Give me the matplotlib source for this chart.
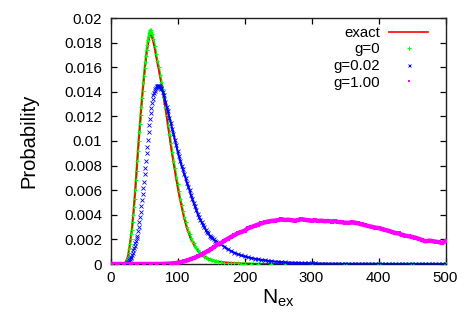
import matplotlib
matplotlib.use("Agg")
import matplotlib.pyplot as plt

plt.rcParams['font.family'] = ['Liberation Sans', 'DejaVu Sans']
plt.rcParams['mathtext.default'] = 'regular'

# ---- data ----
n_exact = [0, 10, 20, 22, 24, 26, 28, 30, 32, 34, 36, 38, 40, 42, 44, 46, 48, 50, 52, 54, 56, 58,
           60, 62, 64, 66, 68, 70, 72, 74, 76, 78, 80, 82, 84, 86, 88, 90, 92, 94, 96, 98,
           100, 102, 104, 106, 108, 110, 112, 114, 116, 118, 120, 122, 124, 126, 128, 130,
           135, 140, 145, 150, 160, 170, 180, 190, 200, 220, 250, 300, 400, 500]
p_exact = [0.0, 0.0, 0.0, 0.0001, 0.0003, 0.0006, 0.0012, 0.0020, 0.0028, 0.0040, 0.0053, 0.0068,
           0.0084, 0.0099, 0.0113, 0.0127, 0.0140, 0.0151, 0.0162, 0.0171, 0.0178, 0.0184,
           0.0186, 0.0184, 0.0180, 0.0175, 0.0169, 0.0163, 0.0158, 0.0152, 0.0146, 0.0140,
           0.0133, 0.0126, 0.0119, 0.0111, 0.0104, 0.0096, 0.0089, 0.0082, 0.0076, 0.0069,
           0.0063, 0.0057, 0.0052, 0.0047, 0.0042, 0.0037, 0.0033, 0.0029, 0.0026, 0.0023,
           0.0020, 0.0018, 0.0016, 0.0014, 0.0013, 0.0011,
           0.0008, 0.0006, 0.00045, 0.00033, 0.00019, 0.00012, 0.00008, 0.00005, 0.00003,
           0.00001, 0.0, 0.0, 0.0, 0.0]

n_g0 = [0, 10, 20, 21, 22, 23, 24, 25, 26, 27, 28, 29, 30, 31, 32, 33, 34, 35, 36, 37, 38, 39,
        40, 41, 42, 43, 44, 45, 46, 47, 48, 49, 50, 51, 52, 53, 54, 55, 56, 57, 58, 59,
        60, 61, 62, 64, 66, 68, 70, 72, 74, 76, 78, 80, 82, 84, 86, 88, 90, 92, 94, 96, 98,
        100, 102, 104, 106, 108, 110, 112, 114, 116, 118, 120, 122, 124, 126, 128, 130,
        132, 134, 136, 138, 140, 142, 144, 146, 148, 150, 152, 154, 156, 158, 160,
        165, 170, 175, 180, 185, 190, 195, 200, 210, 220, 240, 260, 300, 350, 400, 450, 500]
p_g0 = [0.0, 0.0, 0.0, 0.00005, 0.0001, 0.0002, 0.0003, 0.0004, 0.0006, 0.0009, 0.0012, 0.0016,
        0.0020, 0.0024, 0.0028, 0.0034, 0.0040, 0.0046, 0.0053, 0.0060, 0.0068, 0.0076,
        0.0084, 0.0092, 0.0100, 0.0107, 0.0114, 0.0121, 0.0128, 0.0135, 0.0141, 0.0147,
        0.0153, 0.0159, 0.0164, 0.0169, 0.0174, 0.0178, 0.0182, 0.0185, 0.0188, 0.0190,
        0.0190, 0.0189, 0.0187, 0.0183, 0.0177, 0.0171, 0.0165, 0.0160, 0.0154, 0.0148,
        0.0142, 0.0135, 0.0128, 0.0121, 0.0113, 0.0106, 0.0098, 0.0091, 0.0084, 0.0078,
        0.0071, 0.0065, 0.0059, 0.0053, 0.0048, 0.0043, 0.0038, 0.0034, 0.0030, 0.0027,
        0.0024, 0.0021, 0.0019, 0.0017, 0.0015, 0.0013, 0.0011, 0.0010, 0.0009, 0.0008,
        0.0007, 0.0006, 0.00053, 0.00047, 0.00042, 0.00037, 0.00033, 0.0003, 0.00027,
        0.00024, 0.00021, 0.00019,
        0.00015, 0.00012, 0.0001, 0.00008, 0.00006, 0.00005, 0.00004, 0.00003, 0.00002,
        0.00001, 0.0, 0.0, 0.0, 0.0, 0.0, 0.0, 0.0]

n_g002 = [0, 10, 20, 24, 25, 26, 27, 28, 29, 30, 31, 32, 33, 34, 35, 36, 37, 38, 39, 40,
          41, 42, 43, 44, 45, 46, 47, 48, 49, 50, 51, 52, 53, 54, 55, 56, 57, 58, 59, 60,
          61, 62, 63, 64, 65, 66, 67, 68, 69, 70, 71, 72, 73, 74, 75, 76,
          78, 80, 82, 84, 86, 88, 90, 92, 94, 96, 98, 100, 102, 104, 106, 108, 110, 112,
          114, 116, 118, 120, 122, 124, 126, 128, 130, 132, 134, 136, 138, 140, 142, 144,
          146, 148, 150, 152, 154, 156, 158, 160,
          165, 170, 175, 180, 185, 190, 195, 200, 205, 210, 215, 220, 225, 230, 235, 240,
          245, 250, 255, 260, 265, 270, 275, 280, 285, 290, 295, 300, 305, 310, 315, 320,
          325, 330, 335, 340, 345, 350, 355, 360, 365, 370, 375, 380, 385, 390, 395, 400,
          405, 410, 415, 420, 425, 430, 435, 440, 445, 450, 455, 460, 465, 470, 475, 480,
          485, 490, 495, 500]
p_g002 = [0.0, 0.0, 0.0, 0.00005, 0.0001, 0.00015, 0.0002, 0.0003, 0.0004, 0.0005, 0.0006,
          0.0007, 0.0009, 0.0011, 0.0013, 0.0015, 0.0017, 0.0019, 0.0021, 0.0023,
          0.0027, 0.0030, 0.0034, 0.0038, 0.0042, 0.0047, 0.0052, 0.0057, 0.0062, 0.0067,
          0.0073, 0.0078, 0.0084, 0.0090, 0.0095, 0.0101, 0.0107, 0.0113, 0.0118, 0.0123,
          0.0127, 0.0131, 0.0134, 0.0137, 0.0139, 0.0141, 0.0142, 0.0143, 0.0144, 0.0145,
          0.0145, 0.0145, 0.0145, 0.0144, 0.0143, 0.0142,
          0.0140, 0.0137, 0.0132, 0.0128, 0.0124, 0.0119, 0.0115, 0.0110, 0.0106, 0.0101,
          0.0097, 0.0092, 0.0088, 0.0084, 0.0080, 0.0077, 0.0073, 0.0070, 0.0066, 0.0063,
          0.0060, 0.0056, 0.0053, 0.0050, 0.0047, 0.0044, 0.0041, 0.0038, 0.0036, 0.0034,
          0.0032, 0.0030, 0.0028, 0.0026, 0.0025, 0.0023, 0.0022, 0.0021, 0.0020, 0.0019,
          0.0018, 0.0017,
          0.0016, 0.0014, 0.0012, 0.00105, 0.00092, 0.0008, 0.0007, 0.00062, 0.00055, 0.00049,
          0.00043, 0.00038, 0.00034, 0.0003, 0.00026, 0.00023, 0.0002, 0.00018, 0.00016,
          0.00014, 0.00012, 0.00011, 0.0001, 0.00009, 0.00008, 0.00007, 0.00006, 0.00005,
          0.00005, 0.00004, 0.00003, 0.00003, 0.00002, 0.00002, 0.00002, 0.00002, 0.00001,
          0.00001, 0.00001, 0.00001, 0.00001, 0.00001, 0.00001, 0.00001, 0.00001, 0.00001,
          0.00001, 0.00001, 0.0, 0.0, 0.0, 0.0, 0.0, 0.0, 0.0, 0.0, 0.0, 0.0, 0.0, 0.0, 0.0,
          0.0, 0.0, 0.0, 0.0, 0.0, 0.0, 0.0]

n_g1 = [0, 10, 20, 30, 40, 50, 60, 70, 80, 90, 95, 100, 105, 110, 115, 120, 125, 130, 135,
        140, 145, 150, 155, 160, 165, 170, 175, 180, 185, 190, 195, 200, 205, 210, 215, 220,
        225, 230, 235, 240, 245, 250, 255, 260, 265, 270, 275, 280, 285, 290, 295, 300, 305,
        310, 315, 320, 325, 330, 335, 340, 345, 350, 355, 360, 365, 370, 375, 380, 385, 390,
        395, 400, 405, 410, 415, 420, 425, 430, 435, 440, 445, 450, 455, 460, 465, 470, 475,
        480, 485, 490, 495, 500]
p_g1 = [0.0, 0.0, 0.0, 0.0, 0.0, 0.0, 0.0, 0.0, 0.00001, 0.00004, 0.00006, 0.0001, 0.00015,
        0.00022, 0.0003, 0.0004, 0.0005, 0.00062, 0.00075, 0.0009, 0.00105, 0.0012, 0.0014,
        0.0016, 0.0017, 0.0019, 0.00205, 0.0022, 0.00235, 0.0025, 0.0026, 0.0027, 0.0029,
        0.0030, 0.0031, 0.0032, 0.0033, 0.00338, 0.00345, 0.0035, 0.00352, 0.00357, 0.00362,
        0.00358, 0.0036, 0.00356, 0.00352, 0.00358, 0.00363, 0.0036, 0.00355, 0.00352,
        0.00356, 0.0035, 0.00352, 0.00348, 0.0035, 0.00345, 0.00348, 0.00342, 0.0034,
        0.00336, 0.00334, 0.00338, 0.00336, 0.0033, 0.00322, 0.00316, 0.00308, 0.00303,
        0.00296, 0.00292, 0.00285, 0.00277, 0.0027, 0.0026, 0.00252, 0.00248, 0.00238,
        0.0023, 0.00226, 0.0022, 0.00214, 0.00205, 0.00195, 0.00184, 0.0019, 0.00187,
        0.00182, 0.00178, 0.00172, 0.00185]

labels = ['exact', 'g=0', 'g=0.02', 'g=1.00']
x_ticks = [0, 100, 200, 300, 400, 500]
y_ticks = [0, 0.002, 0.004, 0.006, 0.008, 0.01, 0.012, 0.014, 0.016, 0.018, 0.02]
y_ticklabels = ['0', '0.002', '0.004', '0.006', '0.008', '0.01', '0.012', '0.014',
                '0.016', '0.018', '0.02']

# ---- figure ----
fig = plt.figure(figsize=(4.69, 3.28), dpi=100)
ax = fig.add_axes([110.5 / 469, 64 / 328, 335 / 469, 246 / 328])

RED, GREEN, BLUE, MAGENTA = '#ff0000', '#00ff00', '#0000ff', '#ff00ff'

# g=0 drawn as a green band underneath, exact line on top, g=0 markers above
ax.plot(n_g0, p_g0, color=GREEN, lw=1.8, zorder=2, solid_joinstyle='round')
h_exact, = ax.plot(n_exact, p_exact, color=RED, lw=1.2, zorder=3, label=labels[0])
h_g0, = ax.plot(n_g0, p_g0, ls='none', marker='+', ms=3.0, mew=0.7, color=GREEN,
                zorder=4, label=labels[1])

# g=0.02: band under the dense part after the peak, then x markers
ipk = p_g002.index(max(p_g002))
ax.plot(n_g002[ipk:], p_g002[ipk:], color=BLUE, lw=1.5, zorder=4)
h_g002, = ax.plot(n_g002, p_g002, ls='none', marker='x', ms=2.4, mew=0.6, color=BLUE,
                  zorder=5, label=labels[2])

# g=1.00: dense squares -> thick band
ax.plot(n_g1, p_g1, color=MAGENTA, lw=3.2, zorder=6, solid_joinstyle='round')
h_g1, = ax.plot(n_g1, p_g1, ls='none', marker='s', ms=2.2, mew=0, color=MAGENTA,
                zorder=6, label=labels[3])

ax.set_xlim(0, 500)
ax.set_ylim(0, 0.02)
ax.set_xticks(x_ticks)
ax.set_xticklabels([str(v) for v in x_ticks])
ax.set_yticks(y_ticks)
ax.set_yticklabels(y_ticklabels)

ax.tick_params(direction='in', length=4.5, width=0.9, top=True, right=True,
               labelsize=10.8, colors='black')
ax.tick_params(axis='y', pad=6)
ax.tick_params(axis='x', pad=5)
for s in ax.spines.values():
    s.set_linewidth(1.0)
    s.set_color('#202020')

ax.set_xlabel(r'N$_{ex}$', fontsize=15)
ax.set_ylabel('Probability', fontsize=14.5)
ax.xaxis.set_label_coords(0.5, -0.098)
ax.yaxis.set_label_coords(-0.216, 0.5)

leg = ax.legend(handles=[h_exact, h_g0, h_g002, h_g1], labels=labels,
                loc='upper right', bbox_to_anchor=(0.9478, 0.968),
                frameon=False, markerfirst=False, fontsize=10.8,
                handlelength=2.6, handletextpad=0.6, labelspacing=0.17,
                borderpad=0, borderaxespad=0, markerscale=0.9)

fig.savefig('out.png', dpi=100)
